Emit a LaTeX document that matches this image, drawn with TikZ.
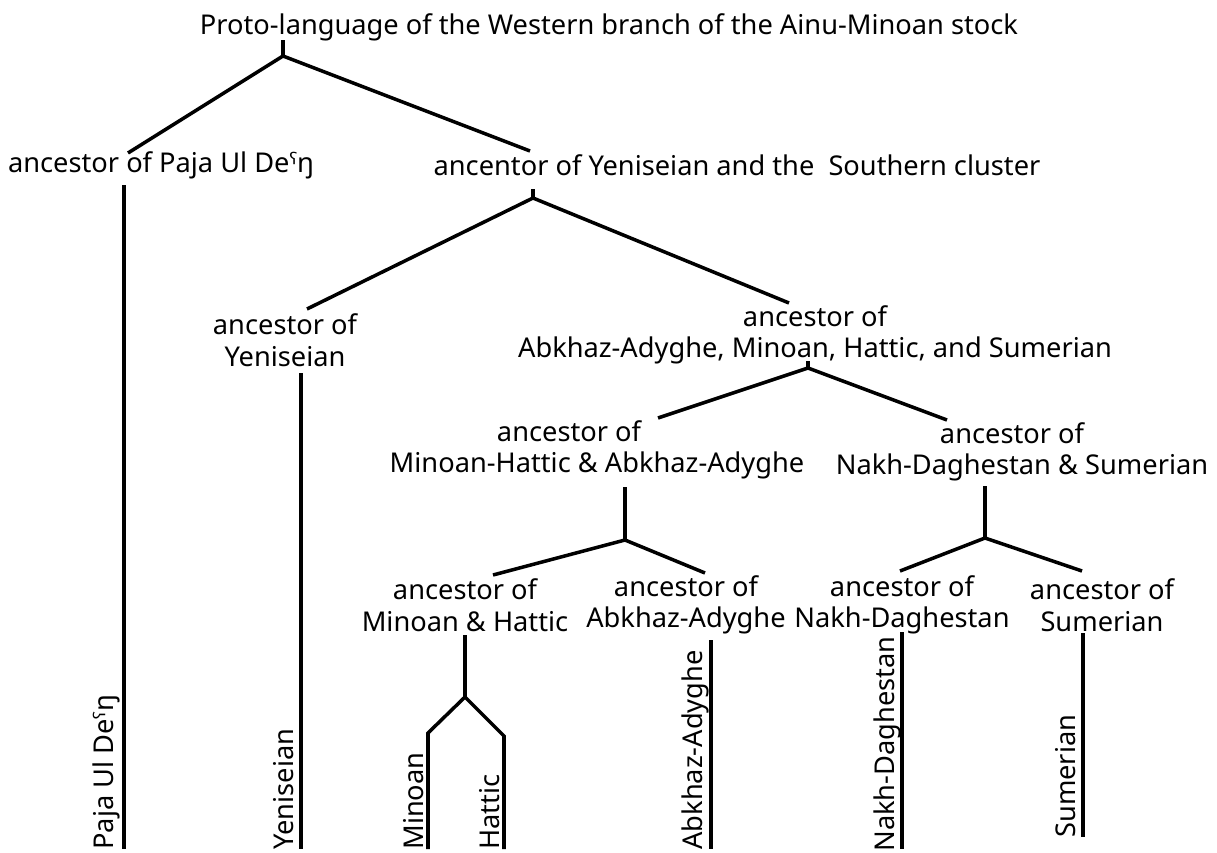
\documentclass[tikz,border=0pt]{standalone}
\usepackage{fontspec}
\setmainfont{Noto Sans}
\usepackage{tikz}

\tikzset{
  branch/.style={line width=2pt},
  lbl/.style={font=\fontsize{15.5}{18}\selectfont, align=center, inner sep=0pt},
  leaf/.style={lbl, rotate=90, anchor=west},
}

\begin{document}
\begin{tikzpicture}[x=0.02cm,y=-0.02cm]
	\useasboundingbox (0,0) rectangle (1217,852);

	% Ancestor labels
	\node (title) at (609,27) [lbl] {Proto-language of the Western branch of the Ainu-Minoan stock};
	\node (pajaanc) at (161,165) [lbl] {ancestor of Paja Ul Deˤŋ};
	\node (southanc) at (737,165) [lbl] {ancentor of Yeniseian and the\ \ Southern cluster};
	\node (yenanc) at (285,340) [lbl] {ancestor of\\Yeniseian};
	\node (ahmsanc) at (815,335) [lbl] {ancestor of\\Abkhaz-Adyghe, Minoan, Hattic, and Sumerian};
	\node (mhaaanc) at (597,450) [lbl] {ancestor of\hspace*{1.12cm}\\Minoan-Hattic \& Abkhaz-Adyghe};
	\node (ndsanc) at (1022,452) [lbl] {ancestor of\hspace*{0.4cm}\\Nakh-Daghestan \& Sumerian};
	\node (mhanc) at (465,605) [lbl] {ancestor of\\Minoan \& Hattic};
	\node (abanc) at (686,605) [lbl] {ancestor of\\Abkhaz-Adyghe};
	\node (ndanc) at (902,605) [lbl] {ancestor of\\Nakh-Daghestan};
	\node (suanc) at (1102,605) [lbl] {ancestor of\\Sumerian};

	% Languages along the bottom
	\node (paja) at (106,850) [leaf] {Paja Ul Deˤŋ};
	\node (yen) at (284,850) [leaf] {Yeniseian};
	\node (minoan) at (414,850) [leaf] {Minoan};
	\node (hattic) at (490,850) [leaf] {Hattic};
	\node (abkhaz) at (695,850) [leaf] {Abkhaz-Adyghe};
	\node (nakh) at (887,852) [leaf] {Nakh-Daghestan};
	\node (sumerian) at (1066,838) [leaf] {Sumerian};

	% Fork points
	\coordinate (r0) at (283,56);
	\coordinate (r1) at (533,198);
	\coordinate (r2) at (808,368);
	\coordinate (r3) at (625,540);
	\coordinate (r4) at (985,538);
	\coordinate (r5) at (465,697);

	% Branch ends
	\coordinate (e1) at (128,153);
	\coordinate (e2) at (530,151);
	\coordinate (e3) at (307,309);
	\coordinate (e4) at (789,303);
	\coordinate (e5) at (658,418);
	\coordinate (e6) at (947,420);
	\coordinate (e7) at (493,575);
	\coordinate (e8) at (705,573);
	\coordinate (e9) at (900,571);
	\coordinate (e10) at (1082,571);
	\coordinate (e11) at (428,733);
	\coordinate (e12) at (504,736);

	% Tree
	\draw[branch] (283,40) -- (r0);
	\draw[branch] (e1) -- (r0) -- (e2);
	\draw[branch] (533,189) -- (r1);
	\draw[branch] (e3) -- (r1) -- (e4);
	\draw[branch] (808,361) -- (r2);
	\draw[branch] (e5) -- (r2) -- (e6);
	\draw[branch] (625,487) -- (r3);
	\draw[branch] (e7) -- (r3) -- (e8);
	\draw[branch] (985,486) -- (r4);
	\draw[branch] (e9) -- (r4) -- (e10);
	\draw[branch] (465,635) -- (r5);

	% Lines down to the languages
	\draw[branch] (124,185) -- (124,849);
	\draw[branch] (301,373) -- (301,849);
	\draw[branch] (r5) -- (e11) -- (428,849);
	\draw[branch] (r5) -- (e12) -- (504,849);
	\draw[branch] (711,640) -- (711,849);
	\draw[branch] (902,632) -- (902,849);
	\draw[branch] (1083,633) -- (1083,837);
\end{tikzpicture}
\end{document}
